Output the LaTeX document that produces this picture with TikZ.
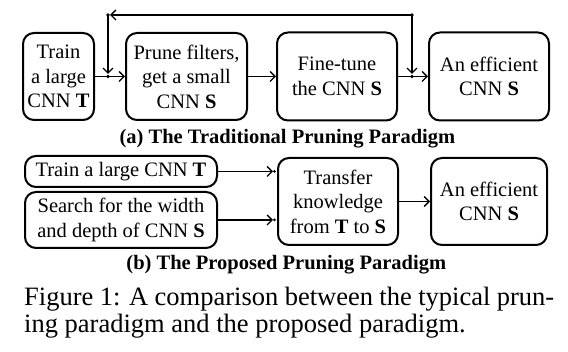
\documentclass[tikz,border=0pt]{standalone}
\usepackage{fontspec}
\setmainfont{Liberation Serif}
\usetikzlibrary{arrows.meta,calc}
\begin{document}
\begin{tikzpicture}[x=1pt,y=-1pt,
  box/.style={draw,line width=2pt,rounded corners=11pt,inner sep=0pt,align=center,font=\fontsize{20.5}{24.5}\selectfont},
  arr/.style={line width=1.4pt,-{Straight Barb[length=5pt,width=10pt,line width=1.4pt]}},
  jdot/.style={circle,fill,inner sep=0pt,minimum size=3.6pt},
  subcap/.style={font=\fontsize{20.5}{24}\selectfont\bfseries,inner sep=0pt,anchor=base},
  figcap/.style={anchor=base west,inner sep=0pt,font=\fontsize{26.5}{26.5}\selectfont}]
\useasboundingbox (0,0) rectangle (568,352);

% (a) traditional
\node[box,minimum width=71pt,minimum height=87pt] (a1) at (58.5,76.5) {Train\\a large\\CNN \textbf{T}};
\node[box,minimum width=121pt,minimum height=87pt] (a2) at (186.5,76.5) {Prune filters,\\get a small\\CNN \textbf{S}};
\node[box,minimum width=120pt,minimum height=88pt] (a3) at (337,76.5) {Fine-tune\\the CNN \textbf{S}};
\node[box,minimum width=120pt,minimum height=88pt] (a4) at (489,76.5) {An efficient\\CNN \textbf{S}};

\draw[arr] (a1.east) -- (a2.west);
\draw[arr] (a2.east) -- (a3.west);
\draw[arr] (a3.east) -- (a4.west);

\coordinate (tl) at (108,15);
\coordinate (tr) at (412,15);
\coordinate (j1) at (108,76.5);
\coordinate (j2) at (412,76.5);
\draw[arr,shorten >=2pt] (tr) -- (tl);
\draw[arr,shorten >=2.5pt] (tl) -- (j1);
\draw[arr,shorten >=2.5pt] (tr) -- (j2);
\node[jdot] (dtl) at (tl) {};
\node[jdot] (dtr) at (tr) {};
\node[jdot] (dj1) at (j1) {};
\node[jdot] (dj2) at (j2) {};

\node[subcap] (capa) at (287.4,144) {(a) The Traditional Pruning Paradigm};

% (b) proposed
\node[box,minimum width=192pt,minimum height=31pt] (b1) at (121,171.5) {Train a large CNN \textbf{T}};
\node[box,minimum width=192pt,minimum height=56pt] (b2) at (121,220) {Search for the width\\and depth of CNN \textbf{S}};
\node[box,minimum width=120pt,minimum height=87pt] (b3) at (338,201.5) {Transfer\\knowledge\\from \textbf{T} to \textbf{S}};
\node[box,minimum width=116pt,minimum height=87pt] (b4) at (489,201.5) {An efficient\\CNN \textbf{S}};

\coordinate (d1) at ($(b3.west |- b1.east)+(-2.5,0)$);
\coordinate (d2) at ($(b3.west |- b2.east)+(-2.5,0)$);
\draw[arr,shorten >=1.5pt] (b1.east) -- (d1);
\draw[arr,shorten >=1.5pt] (b2.east) -- (d2);
\node[jdot,minimum size=3pt] (dd1) at (d1) {};
\node[jdot,minimum size=3pt] (dd2) at (d2) {};
\draw[arr] (b3.east) -- (b4.west);

\node[subcap] (capb) at (286.3,269.5) {(b) The Proposed Pruning Paradigm};

% caption
\node[figcap] (cap1) at (24,306) {\makebox[530pt][s]{Figure 1: A comparison between the typical prun-}};
\node[figcap] (cap2) at (24,332.5) {ing paradigm and the proposed paradigm.};
\end{tikzpicture}
\end{document}
